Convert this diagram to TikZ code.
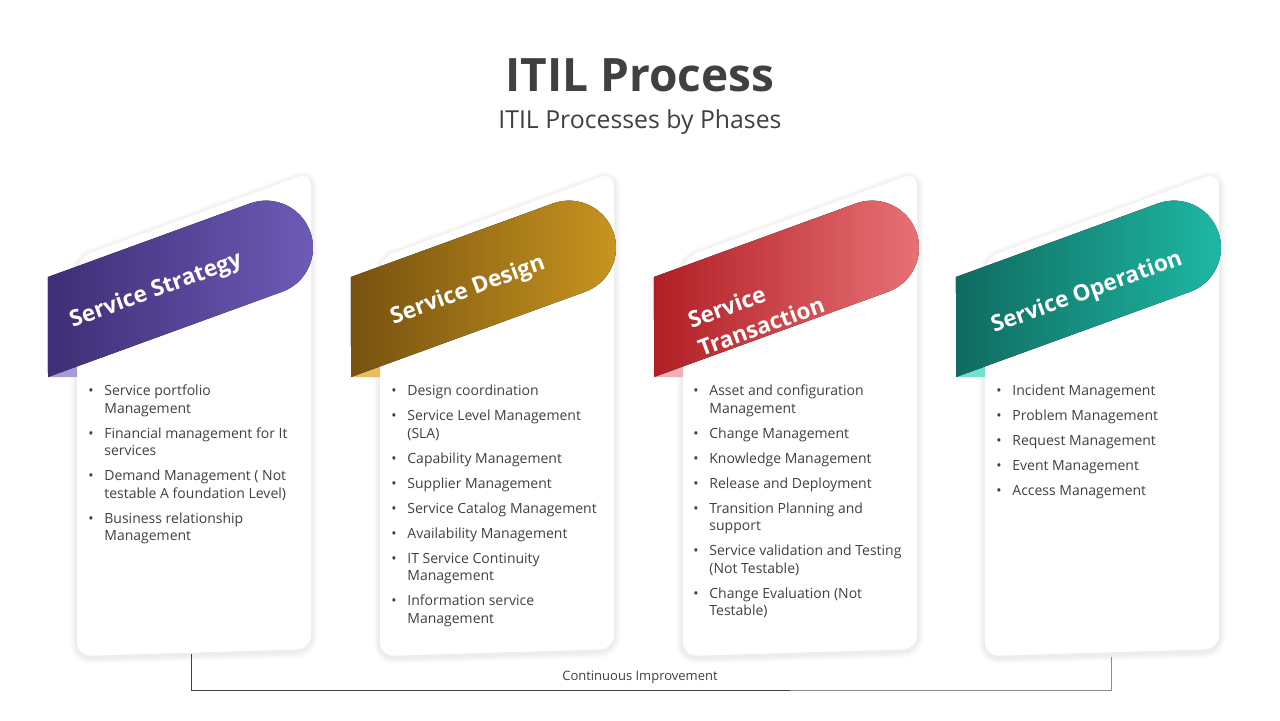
\documentclass[tikz,border=0pt]{standalone}
\usepackage{fontspec}
\setmainfont{Open Sans}
\definecolor{txt}{HTML}{404040}
\definecolor{stratDark}{HTML}{3E2E75}
\definecolor{stratLight}{HTML}{6E5CB8}
\definecolor{stratTab}{HTML}{A69BD5}
\definecolor{designDark}{HTML}{77520F}
\definecolor{designLight}{HTML}{C99620}
\definecolor{designTab}{HTML}{E9BA5F}
\definecolor{transDark}{HTML}{B01F25}
\definecolor{transLight}{HTML}{E97377}
\definecolor{transTab}{HTML}{F1B0B3}
\definecolor{operDark}{HTML}{0F6B60}
\definecolor{operLight}{HTML}{1EB9A5}
\definecolor{operTab}{HTML}{70E0D3}
% one list entry: bullet plus a block of lines
\newcommand{\li}[1]{\textbullet&\begin{tabular}[t]{@{}l@{}}#1\end{tabular}\\\noalign{\vskip3.75pt}}
\begin{document}
\begin{tikzpicture}[x=0.5pt, y=0.5pt,
  cardshape/.style={insert path={(#1,300) -- (#1,462) -- (#1+234,548) -- (#1+234,71) -- (#1,64) -- cycle}},
  bannerlabel/.style={text=white, rotate=20, align=left, font=\bfseries\fontsize{11.3}{15}\selectfont},
  itemlist/.style={anchor=north west, inner sep=0pt, text=txt, font=\fontsize{7}{8.75}\selectfont}]
\useasboundingbox[fill=white] (0,0) rectangle (1280,720);

\node[text=txt, font=\bfseries\fontsize{23}{27}\selectfont] (title) at (640,645) {ITIL Process};
\node[text=txt, font=\fontsize{12.4}{14}\selectfont] (subtitle) at (640,598) {ITIL Processes by Phases};

% cards with soft shadow
\foreach \c in {77,380,683,985} {
  \foreach \w in {6pt,4pt,2pt}
    \draw[black, opacity=0.025, line width=\w, rounded corners=7pt, yshift=-1pt] [cardshape=\c];
  \fill[white, rounded corners=7pt] [cardshape=\c];
}

% banners
\foreach \c/\col/\lab/\lx/\ly/\i in {77/strat/{Service Strategy}/156/429/1,
    380/design/{Service Design}/468/429/2,
    683/trans/{Service\\Transaction}/756/408/3,
    985/oper/{Service Operation}/1087/427/4} {
  \fill[\col Tab] (\c-29,343) -- (\c,343) -- (\c,353.6) -- cycle;
  \begin{scope}[shift={(\c-29,343)}, rotate=20]
    \fill[left color=\col Dark, right color=\col Light] (0,0) -- (34.2,94) -- (249.1,94)
      arc[start angle=90, end angle=-90, radius=23.5pt] -- cycle;
  \end{scope}
  \node[bannerlabel] (lab\i) at (\lx,\ly) {\lab};
}

% process lists
\node[itemlist] (list1) at (88,337) {\begin{tabular}{@{}p{8pt}@{}l@{}}
\li{Service portfolio\\Management}
\li{Financial management for It\\services}
\li{Demand Management ( Not\\testable A foundation Level)}
\li{Business relationship\\Management}
\end{tabular}};
\node[itemlist] (list2) at (391,337) {\begin{tabular}{@{}p{8pt}@{}l@{}}
\li{Design coordination}
\li{Service Level Management\\(SLA)}
\li{Capability Management}
\li{Supplier Management}
\li{Service Catalog Management}
\li{Availability Management}
\li{IT Service Continuity\\Management}
\li{Information service\\Management}
\end{tabular}};
\node[itemlist] (list3) at (693,337) {\begin{tabular}{@{}p{8pt}@{}l@{}}
\li{Asset and configuration\\Management}
\li{Change Management}
\li{Knowledge Management}
\li{Release and Deployment}
\li{Transition Planning and\\support}
\li{Service validation and Testing\\(Not Testable)}
\li{Change Evaluation (Not\\Testable)}
\end{tabular}};
\node[itemlist] (list4) at (996,337) {\begin{tabular}{@{}p{8pt}@{}l@{}}
\li{Incident Management}
\li{Problem Management}
\li{Request Management}
\li{Event Management}
\li{Access Management}
\end{tabular}};

% continuous improvement bracket
\coordinate (ciL) at (191,66);
\coordinate (ciM) at (790,30);
\coordinate (ciR) at (1111,63);
\node[text=txt, font=\fontsize{6.5}{8}\selectfont] (ci) at (640,43) {Continuous Improvement};
\draw[txt, line width=0.5pt] (ciL) |- (ciM);
\draw[black!45, line width=0.5pt] (ciM) -| (ciR);
\end{tikzpicture}
\end{document}
